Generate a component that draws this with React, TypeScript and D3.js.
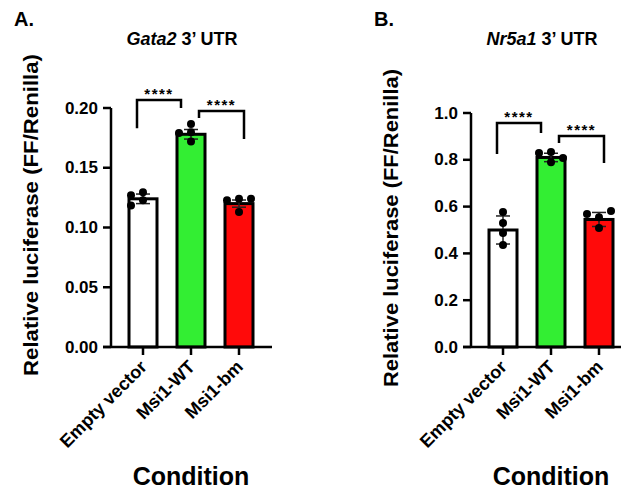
import React from "react";
import * as d3 from "d3";

const FONT = "Arial, 'Liberation Sans', Helvetica, sans-serif";

const categories = ["Empty vector", "Msi1-WT", "Msi1-bm"];
const barColors = ["#ffffff", "#33ee33", "#ff0a0a"];

// Gata2 3' UTR
const gataMeans = [0.124, 0.178, 0.12];
const gataSd = [0.004, 0.004, 0.003];
const gataPoints = [
  [0.1294, 0.1269, 0.1227, 0.1185],
  [0.1866, 0.1798, 0.179, 0.172],
  [0.124, 0.1227, 0.124, 0.113],
];
const gataTicks = [0, 0.05, 0.1, 0.15, 0.2];
// bracket: [from, to, top, left leg end, right leg end]
const gataBrackets = [
  [0, 1, 0.2067, 0.183, 0.2],
  [1, 2, 0.1975, 0.1916, 0.174],
];

// Nr5a1 3' UTR
const nrMeans = [0.5, 0.81, 0.545];
const nrSd = [0.06, 0.018, 0.03];
const nrPoints = [
  [0.577, 0.53, 0.487, 0.436],
  [0.833, 0.829, 0.808, 0.79],
  [0.555, 0.568, 0.581, 0.509],
];
const nrTicks = [0, 0.2, 0.4, 0.6, 0.8, 1.0];
const nrBrackets = [
  [0, 1, 0.957, 0.825, 0.915],
  [1, 2, 0.902, 0.872, 0.786],
];

const W = 621;
const H = 493;
const BASE = 347;

function swarm(vals: number[], cx: number, y: (v: number) => number, r: number) {
  const placed: { x: number; y: number }[] = [];
  const offs = [0, -1, 1, -2, 2].map((k) => k * r * 3);
  vals.forEach((v) => {
    const py = y(v);
    for (const o of offs) {
      const px = cx + o;
      if (placed.every((p) => Math.hypot(p.x - px, p.y - py) >= 2 * r)) {
        placed.push({ x: px, y: py });
        return;
      }
    }
    placed.push({ x: cx, y: py });
  });
  return placed;
}

function Panel(props: any) {
  const { x0, letter, gene, max, yTop, ticks, fmt, means, sds, points, brackets, titleCy, titleLen } = props;
  const y = d3.scaleLinear().domain([0, max]).range([BASE, yTop]);
  const x = d3.scalePoint<string>().domain(categories).range([x0 + 32, x0 + 128]);
  const bw = 28;
  const r = 4;
  return (
    <g fontFamily={FONT} fontWeight="bold">
      <text x={x0 - 97} y={26} fontSize={20}>{letter}</text>
      <text x={x0 + 71} y={45} fontSize={18} textAnchor="middle">
        <tspan fontStyle="italic">{gene}</tspan> 3’ UTR
      </text>
      <text
        transform={`translate(${x0 - 80},${titleCy}) rotate(-90)`}
        fontSize={20}
        textAnchor="middle"
        dominantBaseline="central"
        textLength={titleLen}
        lengthAdjust="spacingAndGlyphs"
      >
        Relative luciferase (FF/Renilla)
      </text>
      {/* bars */}
      {categories.map((c, i) => (
        <rect
          key={c}
          x={x(c)! - bw / 2}
          y={y(means[i])}
          width={bw}
          height={BASE - y(means[i])}
          fill={barColors[i]}
          stroke="#000"
          strokeWidth={3}
        />
      ))}
      {/* error bars */}
      {categories.map((c, i) => {
        const cx = x(c)!;
        const hi = y(means[i] + sds[i]);
        const lo = y(means[i] - sds[i]);
        return (
          <g key={c} stroke="#222" strokeWidth={1.5}>
            <line x1={cx} x2={cx} y1={hi} y2={lo} />
            <line x1={cx - 7} x2={cx + 7} y1={hi} y2={hi} />
            <line x1={cx - 7} x2={cx + 7} y1={lo} y2={lo} />
          </g>
        );
      })}
      {/* points */}
      {categories.map((c, i) =>
        swarm(points[i], x(c)!, y, r).map((p, j) => (
          <circle key={c + j} cx={p.x} cy={p.y} r={r} fill="#000" />
        ))
      )}
      {/* axes */}
      <line x1={x0} x2={x0} y1={yTop} y2={BASE} stroke="#000" strokeWidth={2.5} />
      <line x1={x0 - 8} x2={x0 + 161} y1={BASE} y2={BASE} stroke="#000" strokeWidth={2.5} />
      {ticks.map((t: number) => (
        <g key={t}>
          <line x1={x0 - 8} x2={x0} y1={y(t)} y2={y(t)} stroke="#000" strokeWidth={2.5} />
          <text x={x0 - 13} y={y(t)} fontSize={17} textAnchor="end" dominantBaseline="central">
            {fmt(t)}
          </text>
        </g>
      ))}
      {categories.map((c) => (
        <g key={c}>
          <line x1={x(c)} x2={x(c)} y1={BASE} y2={BASE + 8} stroke="#000" strokeWidth={2.5} />
          <text
            transform={`translate(${x(c)! + 5},${BASE + 21}) rotate(-45)`}
            fontSize={18}
            textAnchor="end"
          >
            {c}
          </text>
        </g>
      ))}
      <text x={x(categories[1])} y={485} fontSize={25} textAnchor="middle">Condition</text>
      {/* significance brackets */}
      {brackets.map((b: number[], k: number) => {
        const x1 = x(categories[b[0]])! + (k === 0 ? -6 : 8);
        const x2 = x(categories[b[1]])! + (k === 0 ? -10 : 5);
        const top = y(b[2]);
        return (
          <g key={k}>
            <path
              d={`M${x1},${y(b[3])}V${top}H${x2}V${y(b[4])}`}
              fill="none"
              stroke="#000"
              strokeWidth={2.5}
            />
            <text x={(x1 + x2) / 2} y={top - 1} fontSize={15} textAnchor="middle" letterSpacing={1.5}>
              ****
            </text>
          </g>
        );
      })}
    </g>
  );
}

export default function App() {
  return (
    <svg width={W} height={H} style={{ position: "absolute", left: 0, top: 0, background: "#fff" }}>
      <rect width={W} height={H} fill="#fff" />
      <Panel
        x0={111}
        letter="A."
        gene="Gata2"
        max={0.2}
        yTop={108}
        ticks={gataTicks}
        fmt={d3.format(".2f")}
        means={gataMeans}
        sds={gataSd}
        points={gataPoints}
        brackets={gataBrackets}
        titleCy={215}
        titleLen={322}
      />
      <Panel
        x0={471}
        letter="B."
        gene="Nr5a1"
        max={1.0}
        yTop={113}
        ticks={nrTicks}
        fmt={d3.format(".1f")}
        means={nrMeans}
        sds={nrSd}
        points={nrPoints}
        brackets={nrBrackets}
        titleCy={228}
        titleLen={318}
      />
    </svg>
  );
}
